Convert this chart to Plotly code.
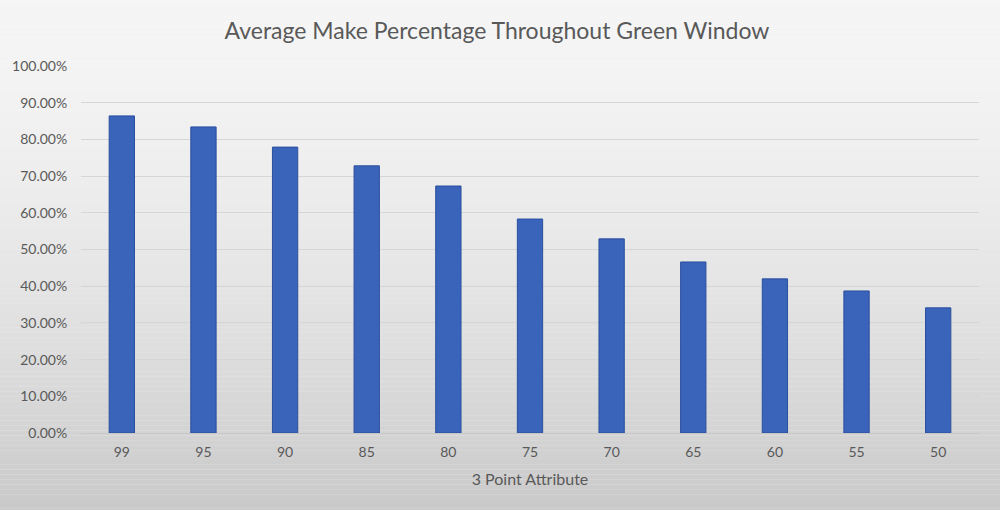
import plotly.graph_objects as go

categories = ["99", "95", "90", "85", "80", "75", "70", "65", "60", "55", "50"]
make_pct = [0.864, 0.834, 0.779, 0.728, 0.673, 0.583, 0.529, 0.466, 0.420, 0.387, 0.341]
y_ticks = [i / 10 for i in range(11)]
y_tick_labels = [f"{v*100:.2f}%" for v in y_ticks]

title_text = "Average Make Percentage Throughout Green Window"
x_title = "3 Point Attribute"

font_family = "Lato, 'Open Sans', sans-serif"
text_color = "#595959"

fig = go.Figure()
fig.add_trace(go.Bar(
    x=categories,
    y=make_pct,
    marker=dict(color="#3a63ba", line=dict(color="#2a4f9f", width=1)),
    hoverinfo="x+y",
))

# background gradient (light at top, greyer at bottom)
shapes = []
n = 120
for i in range(n):
    t = i / (n - 1)
    g = int(round(246 - 50 * (t ** 1.8)))
    shapes.append(dict(
        type="rect", xref="paper", yref="paper", layer="below",
        x0=-0.2, x1=1.2, y0=1.3 - (i + 1) * 1.6 / n, y1=1.3 - i * 1.6 / n,
        fillcolor=f"rgb({g},{g},{g})", line=dict(width=0),
    ))

fig.update_layout(
    width=1000, height=510,
    margin=dict(l=79, r=21, t=66, b=77),
    paper_bgcolor="#ededed",
    plot_bgcolor="rgba(0,0,0,0)",
    shapes=shapes,
    bargap=0.69,
    showlegend=False,
    title=dict(text=title_text, x=0.497, xanchor="center", y=0.94, yanchor="middle",
               font=dict(family=font_family, size=23, color=text_color)),
    font=dict(family=font_family, size=14, color=text_color),
    xaxis=dict(
        type="category",
        title=dict(text=x_title, font=dict(size=16, color=text_color), standoff=15),
        showgrid=False, showline=True, linecolor="#c8c8c8", linewidth=1,
        ticks="outside", ticklen=6, tickcolor="rgba(0,0,0,0)",
        tickfont=dict(size=14, color=text_color),
    ),
    yaxis=dict(
        range=[0, 1.0],
        tickvals=y_ticks, ticktext=y_tick_labels,
        showgrid=True, gridcolor="#d6d6d6", gridwidth=1,
        zeroline=False, showline=False,
        ticks="outside", ticklen=10, tickcolor="rgba(0,0,0,0)",
        tickfont=dict(size=14, color=text_color),
    ),
)

fig.write_html("out.html", config={"displayModeBar": False},
               post_script="document.body.style.margin='0';")
